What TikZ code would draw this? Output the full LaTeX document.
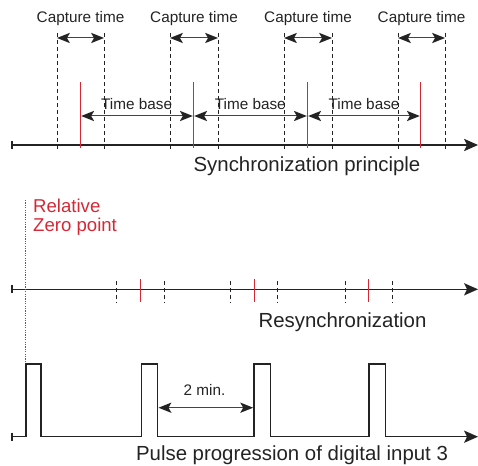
\documentclass[tikz,border=0pt]{standalone}
\usepackage{fontspec}
\setmainfont{Liberation Sans}
\definecolor{myred}{RGB}{214,40,52}
\definecolor{ink}{RGB}{35,35,35}
\begin{document}
\begin{tikzpicture}[x=1pt,y=-1pt,
  axis/.style={line width=1.4pt, draw=ink, shorten >=5pt},
  dimarrow/.style={line width=1pt, draw=ink!85, shorten >=5pt, shorten <=5pt},
  guide/.style={line width=0.8pt, draw=ink, dash pattern=on 4pt off 3pt},
  redmark/.style={line width=1.4pt, draw=myred},
  starttick/.style={line width=1.4pt, draw=ink},
  pulse/.style={line width=1.4pt, draw=ink, shorten >=5pt},
  headr/.pic={\fill[ink] (0,0) -- (-13,-5.2) -- (-10,0) -- (-13,5.2) -- cycle;},
  headl/.pic={\fill[ink] (0,0) -- (13,-5.2) -- (10,0) -- (13,5.2) -- cycle;},
  bighead/.pic={\fill[ink] (0,0) -- (-14,-6.2) -- (-11,0) -- (-14,6.2) -- cycle;},
  small/.style={font=\fontsize{15.3}{18}\selectfont, text=ink, inner sep=0pt, anchor=base},
  big/.style={font=\fontsize{20.4}{24}\selectfont, text=ink, inner sep=0pt, anchor=base},
  redtext/.style={font=\fontsize{18.6}{20}\selectfont, text=myred, inner sep=0pt, anchor=base west}
]
\useasboundingbox (0,0) rectangle (478,465);

% ---------- top: synchronization principle ----------
\coordinate (s0) at (12,145);
\coordinate (s1) at (478,145);
\draw[starttick] (12,141) -- (12,149);
\draw[axis] (s0) -- (s1);
\pic at (s1) {bighead};

% capture windows
\foreach \n/\l/\r in {1/57/104, 2/170/218, 3/284/332, 4/398/445}{
  \coordinate (cl\n) at (\l,38);
  \coordinate (cr\n) at (\r,38);
  \draw[guide] (\l,33) -- (\l,149);
  \draw[guide] (\r,33) -- (\r,149);
  \draw[dimarrow] (cl\n) -- (cr\n);
  \pic at (cl\n) {headl};
  \pic at (cr\n) {headr};
  \node[small] (ct\n) at ({(\l+\r)/2},22.7) {Capture time};
}

% red sync marks
\foreach \n/\x in {1/80.5, 2/193.5, 3/307.5, 4/420.5}{
  \coordinate (rt\n) at (\x,82);
  \coordinate (rb\n) at (\x,148);
  \coordinate (ra\n) at (\x,116);
  \draw[redmark] (rt\n) -- (rb\n);
}
\foreach \a/\b in {1/2, 2/3, 3/4}{
  \draw[dimarrow] (ra\a) -- (ra\b);
  \pic at ([xshift=0.7pt]ra\a) {headl};
  \pic at ([xshift=-0.7pt]ra\b) {headr};
}
\node[small] (tb1) at (136.6,110) {Time base};
\node[small] (tb2) at (250.3,110) {Time base};
\node[small] (tb3) at (364,110) {Time base};
\node[big] (synclbl) at (307,171.7) {Synchronization principle};

% ---------- middle: resynchronization ----------
\coordinate (m0) at (12,289.3);
\coordinate (m1) at (478,289.3);
\draw[starttick] (12,285.3) -- (12,293.3);
\draw[axis] (m0) -- (m1);
\pic at (m1) {bighead};
\foreach \x in {116.7,164.3,230,277.7,345,392.7}{
  \draw[guide] (\x,281) -- (\x,303);
}
\foreach \n/\x in {1/140.5, 2/254.5, 3/368.5}{
  \coordinate (mr\n) at (\x,279);
  \draw[redmark] (mr\n) -- (\x,302);
}
\node[big] (resync) at (342.5,327.7) {Resynchronization};

% relative zero point
\coordinate (z0) at (25.5,200);
\coordinate (z1) at (25.5,363);
\draw[myred, line width=1.1pt, dash pattern=on 1.2pt off 1.2pt] (z0) -- (z1);
\node[redtext] (rel) at (33,212) {Relative};
\node[redtext] (zero) at (33,231.7) {Zero point};

% ---------- bottom: pulse progression ----------
\coordinate (p0) at (12,436.7);
\coordinate (p1) at (478,436.7);
\draw[starttick] (12,432.7) -- (12,440.7);
\draw[pulse] (p0) -- (26,436.7) -- (26,364) -- (41,364) -- (41,436.7)
  -- (141.7,436.7) -- (141.7,364) -- (157.7,364) -- (157.7,436.7)
  -- (254,436.7) -- (254,364) -- (270.7,364) -- (270.7,436.7)
  -- (369,436.7) -- (369,364) -- (385.7,364) -- (385.7,436.7) -- (p1);
\pic at (p1) {bighead};
\coordinate (d0) at (158.5,407.7);
\coordinate (d1) at (253.2,407.7);
\draw[dimarrow] (d0) -- (d1);
\pic at (d0) {headl};
\pic at (d1) {headr};
\node[small] (twomin) at (204.5,395.7) {2 min.};
\node[big] (pulselbl) at (292,460.7) {Pulse progression of digital input 3};
\end{tikzpicture}
\end{document}
